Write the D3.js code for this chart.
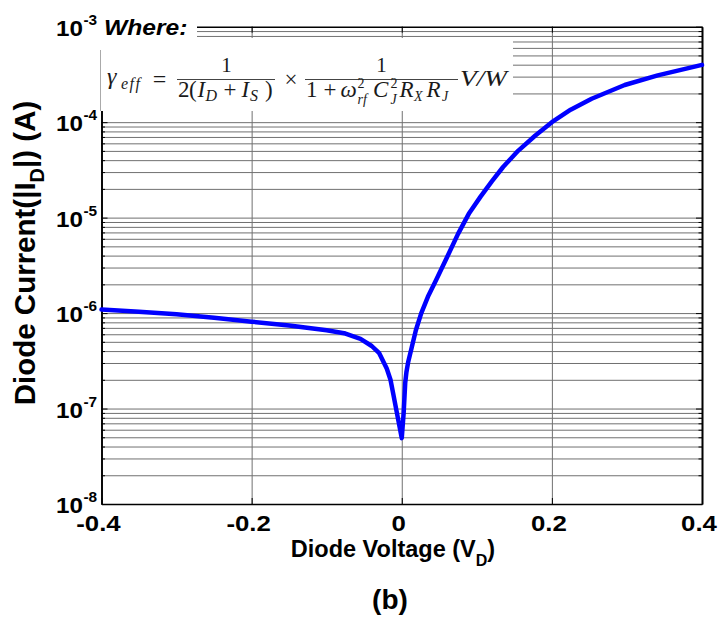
<!DOCTYPE html>
<html>
<head>
<meta charset="utf-8">
<script src="https://cdn.jsdelivr.net/npm/d3@7"></script>
<style>
  body { margin: 0; background: #fff; }
  svg { display: block; }
  .lbl { font-family: "Liberation Sans", Arial, sans-serif; font-weight: bold; fill: #000; }
  .tex { font-family: "Liberation Serif", "DejaVu Serif", serif; fill: #1a1a1a; }
</style>
</head>
<body>
<svg id="chart" width="721" height="619"></svg>
<script>
// Diode I-V sweep: voltage (V) and |current| (A)
const voltage = [-0.4, -0.35, -0.3, -0.25, -0.2, -0.15, -0.1, -0.075, -0.055, -0.04,
                 -0.03, -0.02, -0.015, -0.011, -0.0066, 0,
                 0.0025, 0.0046, 0.0062, 0.0085, 0.0135, 0.0188, 0.0259, 0.0348, 0.0458, 0.06, 0.075,
                 0.09, 0.105, 0.12, 0.135, 0.155, 0.178, 0.2, 0.225, 0.253, 0.297, 0.341, 0.4];
const current = [1.089e-6, 1.035e-6, 9.73e-7, 8.95e-7, 8.13e-7, 7.41e-7, 6.61e-7, 6.10e-7, 5.37e-7, 4.52e-7,
                 3.80e-7, 2.63e-7, 2.0e-7, 1.38e-7, 9.1e-8, 4.9e-8,
                 8.9e-8, 1.85e-7, 2.4e-7, 3.05e-7, 4.44e-7, 6.61e-7, 9.93e-7, 1.48e-6, 2.22e-6, 3.80e-6, 6.76e-6,
                 1.12e-5, 1.66e-5, 2.40e-5, 3.39e-5, 5.01e-5, 7.24e-5, 1.0e-4, 1.35e-4, 1.76e-4, 2.45e-4, 3.09e-4, 3.98e-4];

const xTicks = [-0.4, -0.2, 0, 0.2, 0.4];
const xTickLabels = ["-0.4", "-0.2", "0", "0.2", "0.4"];
const yExponents = [-8, -7, -6, -5, -4, -3];
const minorMultipliers = [2, 3, 4, 5, 6, 7, 8, 9];

const svg = d3.select("#chart");
const plotL = 101.5, plotR = 702, plotT = 26.7, plotB = 504;

const x = d3.scaleLinear().domain([-0.4, 0.4]).range([plotL, plotR]);
const y = d3.scaleLog().domain([1e-8, 1e-3]).range([plotB, plotT]);

const yMajor = yExponents.map(e => Math.pow(10, e));
const yMinor = [];
yExponents.slice(0, -1).forEach(e => minorMultipliers.forEach(m => yMinor.push(m * Math.pow(10, e))));

// grid
const grid = svg.append("g");
grid.append("g").attr("transform", `translate(${plotL},0)`)
  .call(d3.axisLeft(y).tickValues(yMinor.concat(yMajor.slice(1, -1))).tickSize(-(plotR - plotL)).tickFormat(""))
  .call(g => g.select(".domain").remove())
  .call(g => g.selectAll("line").attr("stroke", "#707070").attr("stroke-width", 1));
grid.append("g").attr("transform", `translate(0,${plotB})`)
  .call(d3.axisBottom(x).tickValues(xTicks.slice(1, -1)).tickSize(-(plotB - plotT)).tickFormat(""))
  .call(g => g.select(".domain").remove())
  .call(g => g.selectAll("line").attr("stroke", "#707070").attr("stroke-width", 1));

// axes with inward ticks on all four sides
function styleAxis(g) {
  g.selectAll("text").remove();
  g.select(".domain").attr("stroke", "#000").attr("stroke-width", 1.6);
  g.selectAll("line").attr("stroke", "#000").attr("stroke-width", 1);
}
svg.append("g").attr("transform", `translate(${plotL},0)`)
  .call(d3.axisLeft(y).tickValues(yMajor).tickSize(-6).tickSizeOuter(0)).call(styleAxis);
svg.append("g").attr("transform", `translate(${plotL},0)`)
  .call(d3.axisLeft(y).tickValues(yMinor).tickSize(-3.5).tickSizeOuter(0)).call(styleAxis);
svg.append("g").attr("transform", `translate(${plotR},0)`)
  .call(d3.axisRight(y).tickValues(yMajor).tickSize(-6).tickSizeOuter(0)).call(styleAxis);
svg.append("g").attr("transform", `translate(${plotR},0)`)
  .call(d3.axisRight(y).tickValues(yMinor).tickSize(-3.5).tickSizeOuter(0)).call(styleAxis);
svg.append("g").attr("transform", `translate(0,${plotB})`)
  .call(d3.axisBottom(x).tickValues(xTicks).tickSize(-6).tickSizeOuter(0)).call(styleAxis);
svg.append("g").attr("transform", `translate(0,${plotT})`)
  .call(d3.axisTop(x).tickValues(xTicks).tickSize(-6).tickSizeOuter(0)).call(styleAxis);

// y tick labels: 10^e
yExponents.forEach((e, i) => {
  const yy = y(yMajor[i]);
  svg.append("text").attr("class", "lbl")
    .attr("transform", `translate(83,${yy + 9}) scale(1.1,1)`)
    .attr("text-anchor", "end").attr("font-size", 22).text("10");
  svg.append("text").attr("class", "lbl")
    .attr("transform", `translate(83.5,${yy - 2}) scale(1.1,1)`)
    .attr("font-size", 14).text(String(e));
});

// x tick labels
xTicks.forEach((v, i) => {
  svg.append("text").attr("class", "lbl")
    .attr("transform", `translate(${x(v) - 3},531) scale(1.2,1)`)
    .attr("text-anchor", "middle").attr("font-size", 21.5).text(xTickLabels[i]);
});

// axis titles
const xt = svg.append("text").attr("class", "lbl")
  .attr("transform", "translate(393,557)").attr("text-anchor", "middle").attr("font-size", 23.5);
xt.append("tspan").text("Diode Voltage (V");
xt.append("tspan").attr("font-size", 16).attr("dy", 9).text("D");
xt.append("tspan").attr("dy", -9).text(")");

const yt = svg.append("text").attr("class", "lbl")
  .attr("transform", "translate(35,253) rotate(-90)").attr("text-anchor", "middle").attr("font-size", 29.5);
yt.append("tspan").text("Diode Current(|I");
yt.append("tspan").attr("font-size", 20).attr("dy", 9).text("D");
yt.append("tspan").attr("dy", -9).text("|) (A)");

svg.append("text").attr("class", "lbl")
  .attr("x", 390).attr("y", 609).attr("text-anchor", "middle").attr("font-size", 28).text("(b)");

// annotation boxes
svg.append("rect").attr("x", 99).attr("y", 12).attr("width", 98).attr("height", 27).attr("fill", "#fff");
svg.append("rect").attr("x", 99).attr("y", 38).attr("width", 414).attr("height", 73).attr("fill", "#fff");
svg.append("line").attr("x1", 100.5).attr("x2", 100.5).attr("y1", 50).attr("y2", 111)
  .attr("stroke", "#aaa").attr("stroke-width", 1);

svg.append("text").attr("class", "lbl")
  .attr("transform", "translate(104,35) scale(1.12,1)")
  .attr("font-size", 22).attr("font-style", "italic").text("Where:");

// formula
const tex = svg.append("g").attr("class", "tex");
function put(str, px, py, size, italic, anchor) {
  return tex.append("text").attr("x", px).attr("y", py).attr("font-size", size)
    .attr("font-style", italic ? "italic" : "normal")
    .attr("text-anchor", anchor || "start").text(str);
}
put("γ", 107, 84, 24, true);
put("eff", 121, 89, 16, true).attr("letter-spacing", 1.5);
put("=", 159.5, 86.5, 24, false, "middle");
tex.append("line").attr("x1", 177).attr("x2", 275).attr("y1", 79.5).attr("y2", 79.5)
  .attr("stroke", "#444").attr("stroke-width", 1.2);
put("1", 226.5, 72, 21, false, "middle");
put("2", 178, 97, 23, false);
put("(", 189, 97, 23, false);
put("I", 197.5, 97, 23, true);
put("D", 205.5, 100.5, 16, true);
put("+", 230, 97, 23, false, "middle");
put("I", 241.5, 97, 23, true);
put("S", 250, 100.5, 16, true);
put(")", 265, 97, 23, false);
put("×", 291, 87, 23, false, "middle");
tex.append("line").attr("x1", 305).attr("x2", 458).attr("y1", 79.5).attr("y2", 79.5)
  .attr("stroke", "#444").attr("stroke-width", 1.2);
put("1", 381.5, 72, 21, false, "middle");
put("1", 306, 97, 23, false);
put("+", 330, 97, 23, false, "middle");
put("ω", 340.5, 97, 23, true);
put("2", 357.5, 88, 14, false);
put("rf", 357.5, 104, 14, true);
put("C", 373, 97, 23, true);
put("2", 390.5, 88, 14, false);
put("J", 390.5, 104, 14, true);
put("R", 399.5, 97, 23, true);
put("X", 414, 101, 14, true);
put("R", 426.5, 97, 23, true);
put("J", 442, 101, 14, true);
put("V/W", 460, 86, 24, true).attr("textLength", 47).attr("lengthAdjust", "spacingAndGlyphs");

// data curve
const line = d3.line().x((d, i) => x(voltage[i])).y(d => y(d));
svg.append("path").datum(current)
  .attr("d", line)
  .attr("fill", "none").attr("stroke", "#0000ff").attr("stroke-width", 4.5)
  .attr("stroke-linejoin", "round").attr("stroke-linecap", "round");
</script>
</body>
</html>
